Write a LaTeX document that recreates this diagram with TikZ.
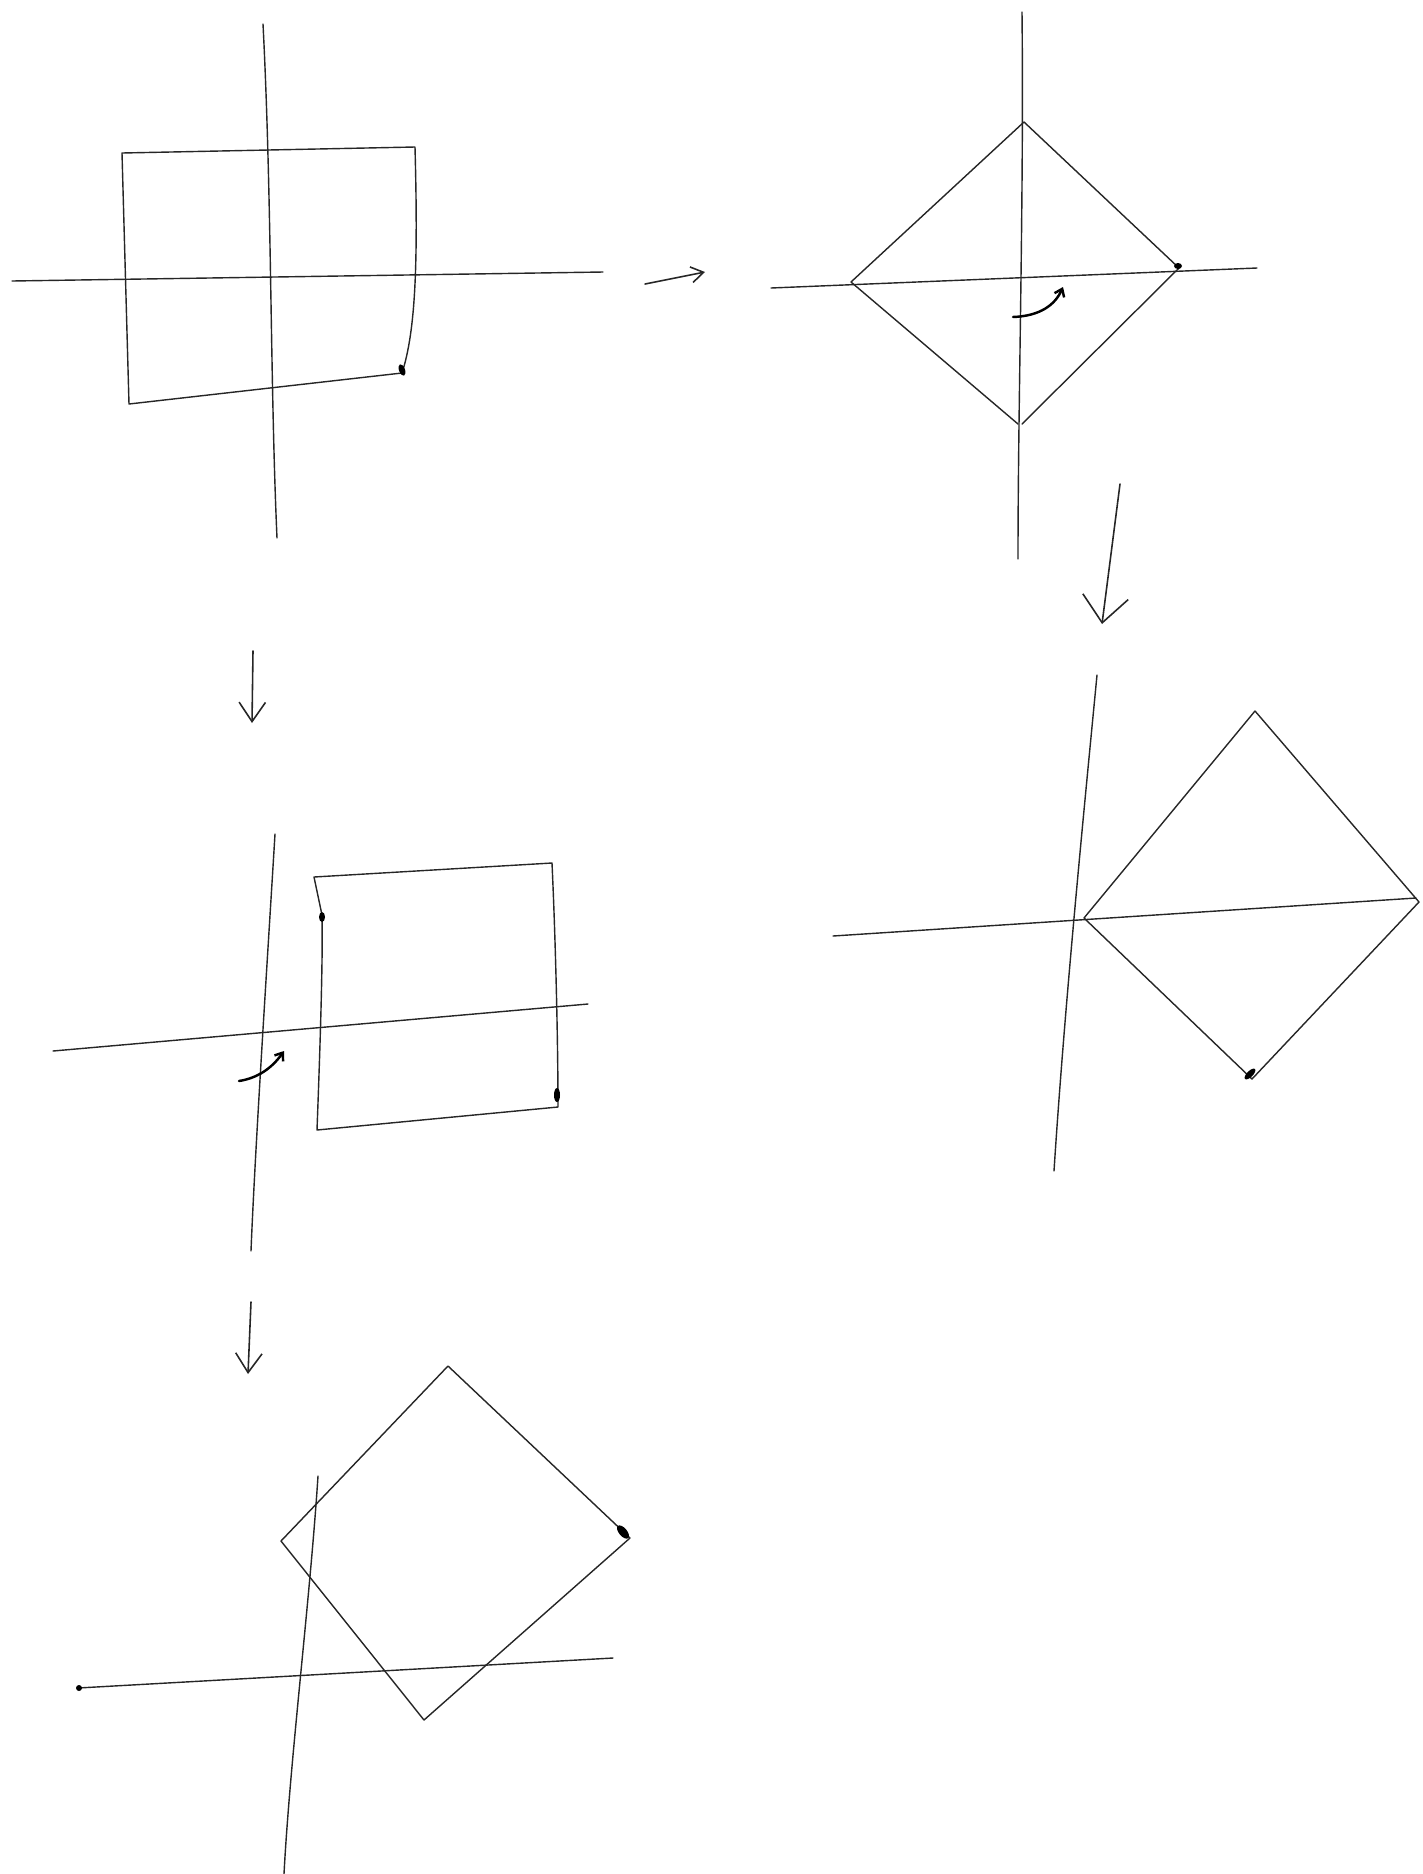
\documentclass[tikz,border=0pt]{standalone}
\usetikzlibrary{arrows.meta}

\begin{document}
\begin{tikzpicture}[x=0.02cm, y=-0.02cm, line join=round, line cap=round,
    axis/.style={line width=0.8pt, black!85},
    outline/.style={line width=0.8pt, black!85},
    step arrow/.style={line width=0.9pt, black!85, -{Straight Barb[length=11pt, width=15pt]}},
    turn arrow/.style={line width=1.4pt, black, -{Straight Barb[length=4pt, width=6pt]}},
    pen/.style={fill=black}]

  \useasboundingbox (0,0) rectangle (1423,1874);

  % square at origin
  \draw[axis] (263,24) .. controls (272,200) and (270,380) .. (277,538);
  \draw[axis] (12,281) -- (603,272);
  \draw[outline] (402,373) -- (129,404) -- (122,153) -- (415,147) .. controls (418,260) and (416,330) .. (402,373);
  \fill[pen, rotate around={-70:(402,370)}] (402,370) ellipse (6 and 3);

  \draw[step arrow, -{Straight Barb[length=7pt, width=9pt]}] (645,284) -- (705,272);

  % rotated about origin
  \draw[axis] (1022,12) .. controls (1024,200) and (1018,400) .. (1018,559);
  \draw[axis] (771,288) -- (1257,268);
  \draw[outline] (1179,268) -- (1024,122) -- (851,282) -- (1018,424);
  \draw[outline] (1179,268) -- (1022,424);
  \fill[pen] (1178,266) ellipse (4 and 3);
  \draw[turn arrow] (1013,317) .. controls (1040,316) and (1055,305) .. (1063,287);

  \draw[step arrow, -{Straight Barb[length=15pt, width=26pt]}] (1120,484) -- (1102,624);

  % translated after rotation
  \draw[axis] (1097,675) .. controls (1085,800) and (1065,1000) .. (1054,1171);
  \draw[axis] (833,936) -- (1416,898);
  \draw[outline] (1084,918) -- (1255,711) -- (1419,902) -- (1252,1079) -- cycle;
  \fill[pen, rotate around={45:(1250,1074)}] (1250,1074) ellipse (7 and 3);

  \draw[step arrow] (253,651) -- (252,723);

  % translated square
  \draw[axis] (275,834) .. controls (268,950) and (255,1150) .. (251,1251);
  \draw[axis] (53,1051) -- (588,1004);
  \draw[outline] (322,915) -- (314,877) -- (552,863) .. controls (556,950) and (558,1050) .. (558,1107)
    -- (317,1130) .. controls (320,1050) and (323,960) .. (322,915);
  \fill[pen] (322,917) ellipse (3 and 5);
  \fill[pen] (557,1095) ellipse (3 and 7);
  \draw[turn arrow] (239,1081) .. controls (258,1078) and (272,1068) .. (284,1051);

  \draw[step arrow] (251,1302) -- (248,1374);

  % rotated after translation
  \draw[axis] (318,1476) .. controls (310,1600) and (290,1760) .. (284,1874);
  \draw[axis] (78,1688) -- (613,1658);
  \fill[pen] (79,1688) circle (3);
  \draw[outline] (281,1541) -- (448,1366) -- (630,1538) -- (424,1720) -- cycle;
  \fill[pen, rotate around={-50:(623,1532)}] (623,1532) ellipse (8 and 4);
\end{tikzpicture}
\end{document}
